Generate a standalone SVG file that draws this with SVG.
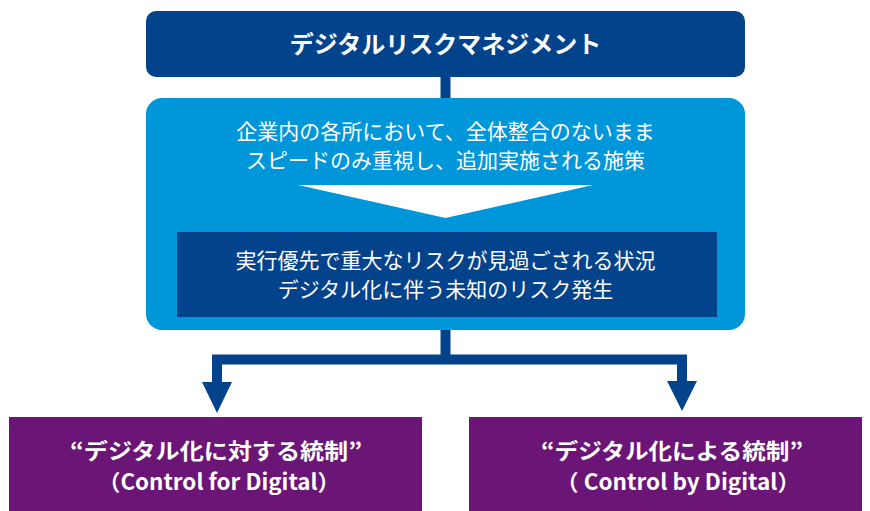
<svg xmlns="http://www.w3.org/2000/svg" width="870" height="511" viewBox="0 0 870 511">
<style>
.t{font-family:"Noto Sans CJK JP","Liberation Sans",sans-serif;fill:#ffffff;text-anchor:middle}
.b{font-weight:bold}
.dark{fill:#03438B}
.light{fill:#0096DA}
.purple{fill:#6B1577}
.conn{stroke:#03438B;stroke-width:10;fill:none;stroke-linejoin:miter}
.head{fill:#03438B}
</style>
<rect width="870" height="511" fill="#ffffff"/>
<g id="connectors">
<path class="conn" d="M445.5,76 V100"/>
<path class="conn" d="M445.5,329 V360"/>
<path class="conn" d="M217,384 V359.5 H682 V383"/>
<polygon class="head" points="202,382 232,382 217,413"/>
<polygon class="head" points="667,381 697,381 682,411"/>
</g>
<g id="node-top">
<rect class="dark" x="146" y="11" width="599" height="66" rx="10"/>
<text class="t b" x="445.5" y="52.5" font-size="24">デジタルリスクマネジメント</text>
</g>
<g id="node-middle">
<rect class="light" x="146" y="98" width="599" height="232" rx="16"/>
<text class="t" x="445.5" y="139" font-size="21">企業内の各所において、全体整合のないまま</text>
<text class="t" x="445.5" y="168" font-size="21">スピードのみ重視し、追加実施される施策</text>
<polygon fill="#ffffff" points="298,185 593,185 445.5,218"/>
</g>
<g id="node-risk">
<rect class="dark" x="177" y="232" width="540" height="85"/>
<text class="t" x="445.5" y="268" font-size="21">実行優先で重大なリスクが見過ごされる状況</text>
<text class="t" x="445.5" y="297" font-size="21">デジタル化に伴う未知のリスク発生</text>
</g>
<g id="node-left">
<rect class="purple" x="9" y="417" width="413" height="94"/>
<text class="t b" x="216" y="459" font-size="22" textLength="292" lengthAdjust="spacingAndGlyphs">“デジタル化に対する統制”</text>
<text class="t b" x="219" y="490" font-size="22" textLength="242" lengthAdjust="spacingAndGlyphs">（Control for Digital）</text>
</g>
<g id="node-right">
<rect class="purple" x="469" y="417" width="393" height="94"/>
<text class="t b" x="672" y="459" font-size="22" textLength="262" lengthAdjust="spacingAndGlyphs">“デジタル化による統制”</text>
<text class="t b" x="678" y="490" font-size="22" textLength="244" lengthAdjust="spacingAndGlyphs">（ Control by Digital）</text>
</g>
</svg>
